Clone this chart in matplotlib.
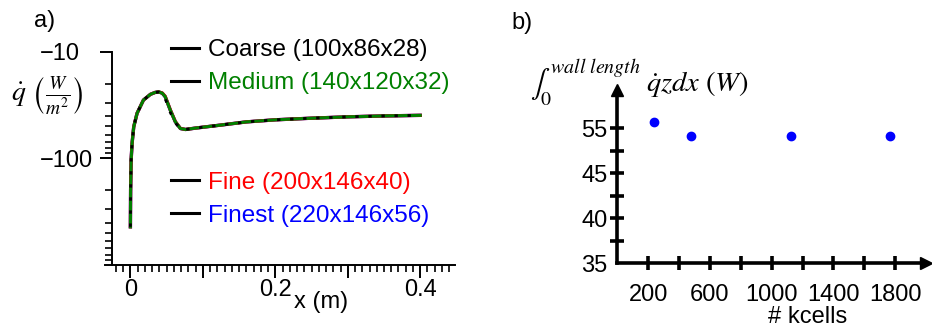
import numpy as np
import matplotlib
matplotlib.use("Agg")
import matplotlib.pyplot as plt
from matplotlib.lines import Line2D
from matplotlib import ticker

plt.rcParams['font.family'] = ['Liberation Sans', 'DejaVu Sans']
plt.rcParams['mathtext.fontset'] = 'stix'

# wall heat flux along the wall, W/m^2 (negative = heat leaving)
x_m = [0, 0.0003, 0.001, 0.0023, 0.0046, 0.0092, 0.018, 0.0276, 0.034, 0.039,
       0.044, 0.048, 0.055, 0.062, 0.069, 0.076, 0.09, 0.124, 0.16, 0.2,
       0.25, 0.3, 0.35, 0.4]
q_finest = [-438, -200, -104, -72.5, -50.6, -37.8, -28.4, -25.1, -24.1, -23.8,
            -24.5, -26.4, -35.2, -45.4, -52.5, -53.6, -52.0, -48.8, -45.5, -43.5,
            -42.0, -40.8, -40.0, -39.5]
q_fine = [-438, -200, -104, -72.5, -50.6, -37.8, -28.4, -25.1, -24.1, -23.8,
          -24.4, -26.2, -35.0, -45.2, -52.4, -53.6, -52.0, -48.8, -45.5, -43.5,
          -42.0, -40.8, -40.0, -39.5]
q_medium = [-438, -200, -104, -72.5, -50.6, -37.8, -28.4, -25.1, -24.1, -23.8,
            -24.5, -26.4, -35.2, -45.4, -52.5, -53.6, -52.0, -48.8, -45.5, -43.5,
            -42.0, -40.8, -40.0, -39.5]
q_coarse = [-438, -200, -104, -72.5, -50.6, -37.8, -28.4, -25.1, -24.1, -23.9,
            -25.0, -27.5, -37.0, -46.5, -52.8, -53.6, -52.0, -48.8, -45.5, -43.5,
            -42.0, -40.8, -40.0, -39.5]

mesh_labels = ['Coarse (100x86x28)', 'Medium (140x120x32)',
               'Fine (200x146x40)', 'Finest (220x146x56)']

# integrated wall heat vs mesh size
kcells = [241, 480, 1123, 1766]
q_total = [56.5, 53.2, 53.2, 53.2]

fig = plt.figure(figsize=(9.32, 3.29), dpi=100)

# ---- a) heat flux profiles ----
ax1 = fig.add_axes([0.1127, 0.1945, 0.3755, 0.6483])
ax1.plot(x_m, -np.array(q_finest), color='blue', lw=2.4)
ax1.plot(x_m, -np.array(q_fine), color='red', lw=2.4)
ax1.plot(x_m, -np.array(q_medium), color='green', lw=2.2)
ax1.plot(x_m, -np.array(q_coarse), color='black', lw=2.0, dashes=(1.2, 3.5))
ax1.set_yscale('log')
ax1.set_ylim(1000, 10)
ax1.set_xlim(-0.035, 0.448)
ax1.spines['left'].set_position(('data', -0.025))
ax1.spines[['top', 'right']].set_visible(False)
for s in ['left', 'bottom']:
    ax1.spines[s].set_linewidth(1.4)
ax1.yaxis.set_major_locator(ticker.FixedLocator([10, 100]))
ax1.yaxis.set_major_formatter(ticker.FuncFormatter(lambda v, p: '\u2212%g' % v))
ax1.yaxis.set_minor_locator(ticker.LogLocator(subs=np.arange(2, 10)))
ax1.yaxis.set_minor_formatter(ticker.NullFormatter())
ax1.xaxis.set_major_locator(ticker.FixedLocator([0, 0.1, 0.2, 0.3, 0.4]))
ax1.xaxis.set_major_formatter(ticker.FuncFormatter(
    lambda v, p: '%g' % round(v, 1) if round(v * 10) % 2 == 0 else ''))
ax1.xaxis.set_minor_locator(ticker.FixedLocator(np.arange(-0.02, 0.445, 0.01)))
ax1.tick_params(which='major', length=9, width=1.4, labelsize=17)
ax1.tick_params(which='minor', length=5, width=1.2)
ax1.tick_params(axis='y', which='major', pad=43)
for tl in ax1.get_yticklabels():
    tl.set_horizontalalignment('left')
ax1.tick_params(axis='x', pad=1)

handles = [Line2D([], [], color='black', lw=2.2) for _ in mesh_labels]
leg1 = ax1.legend(handles[:2], mesh_labels[:2], loc='upper left',
                  bbox_to_anchor=(0.184, 0.88), bbox_transform=fig.transFigure,
                  frameon=False, fontsize=17.5, handlelength=1.15,
                  handletextpad=0.35, labelspacing=0.45, borderpad=0,
                  borderaxespad=0, labelcolor=['black', 'green'])
ax1.add_artist(leg1)
ax1.legend(handles[2:], mesh_labels[2:], loc='upper left',
           bbox_to_anchor=(0.184, 0.478), bbox_transform=fig.transFigure,
           frameon=False, fontsize=17.5, handlelength=1.15,
           handletextpad=0.35, labelspacing=0.45, borderpad=0,
           borderaxespad=0, labelcolor=['red', 'blue'])

fig.text(0.051, 0.705, r'$\dot{q}\ \left(\frac{W}{m^2}\right)$', fontsize=20,
         va='center', ha='center')
fig.text(0.345, 0.082, 'x (m)', fontsize=17, ha='center', va='center')
fig.text(0.037, 0.935, 'a)', fontsize=17, va='center')

# ---- b) integrated heat vs mesh size ----
def fwd(y):
    y = np.asarray(y, dtype=float)
    return np.where(y <= 45, y, 45 + (y - 45) / 2)

def inv(v):
    v = np.asarray(v, dtype=float)
    return np.where(v <= 45, v, 45 + (v - 45) * 2)

ax2 = fig.add_axes([0.6623, 0.1997, 0.3313, 0.5267])
ax2.plot(kcells, q_total, 'o', color='blue', ms=6, clip_on=False)
ax2.set_yscale('function', functions=(fwd, inv))
ax2.set_xlim(0, 2000)
ax2.set_ylim(35, 63.5)
ax2.spines[['top', 'right']].set_visible(False)
for s in ['left', 'bottom']:
    ax2.spines[s].set_linewidth(2.6)
ax2.set_xticks(np.arange(200, 1801, 200))
ax2.set_xticklabels(['200', '', '600', '', '1000', '', '1400', '', '1800'])
ax2.set_yticks([35, 37.5, 40, 42.5, 45, 50, 55])
ax2.set_yticklabels(['35', '', '40', '', '45', '', '55'])
ax2.tick_params(direction='inout', length=10, width=2.6, labelsize=17)
ax2.tick_params(axis='x', pad=10)
ax2.tick_params(axis='y', pad=2)
ax2.yaxis.get_major_ticks()[0].tick1line.set_visible(False)
ax2.plot(1, 0, '>', color='black', ms=9, transform=ax2.transAxes, clip_on=False)
ax2.plot(0, 1, '^', color='black', ms=9, transform=ax2.transAxes, clip_on=False)

fig.text(0.569, 0.748, r'$\int_0^{wall\ length}\ \dot{q}zdx\ (W)$', fontsize=20.5,
         va='center', ha='left')
fig.text(0.867, 0.037, '# kcells', fontsize=17, ha='center', va='center')
fig.text(0.549, 0.93, 'b)', fontsize=17, va='center')

fig.savefig('out.png', dpi=100)
